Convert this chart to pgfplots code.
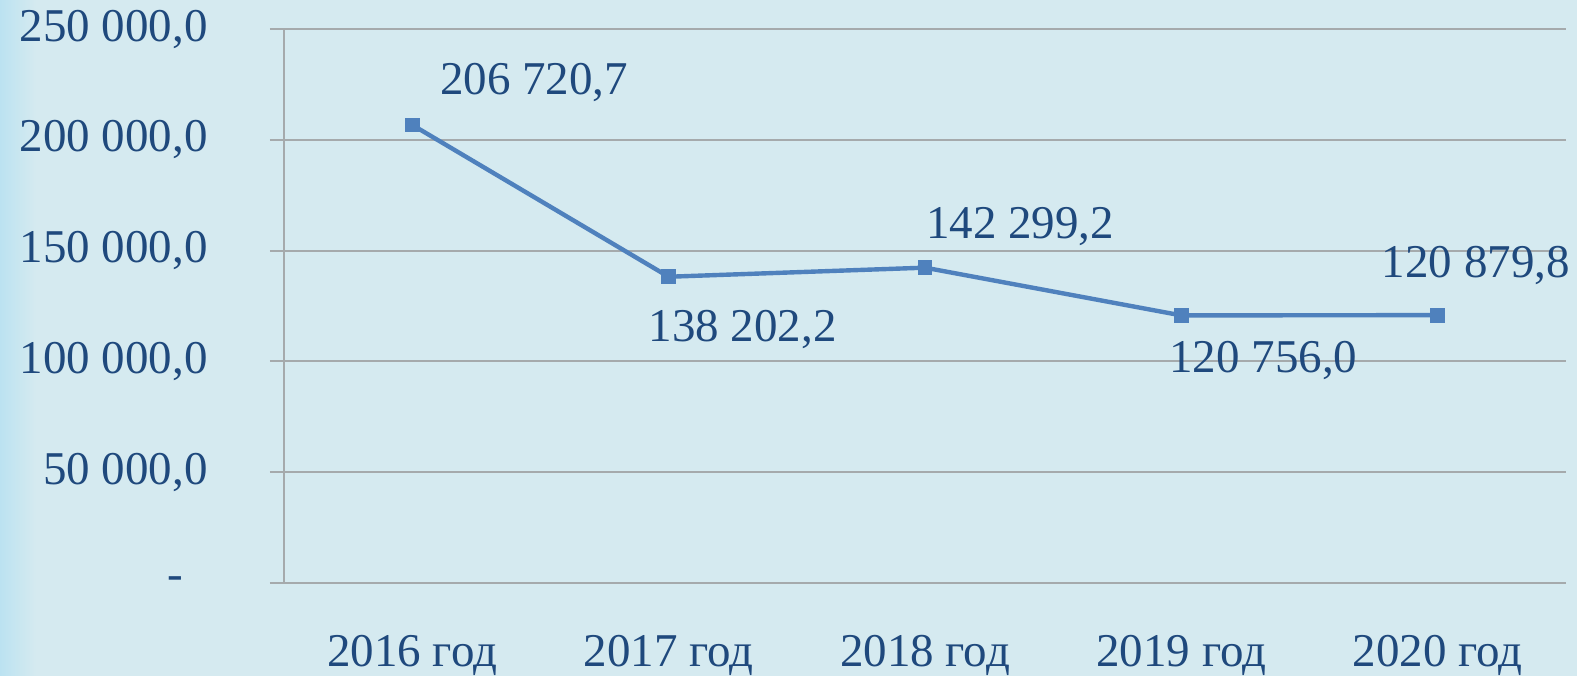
\documentclass[border=0pt]{standalone}
\usepackage{pgfplots}
\pgfplotsset{compat=1.18}
\usepackage{pgfplotstable}
\usepackage{fontspec}
\setmainfont{Liberation Serif}
\definecolor{bg}{RGB}{213,234,240}
\definecolor{bgl}{RGB}{183,225,241}
\definecolor{txt}{RGB}{31,73,125}
\definecolor{ln}{RGB}{79,129,189}
\definecolor{grd}{RGB}{165,170,172}

\pgfplotstableread{
x y dx dy lab
0 206720.7 61 15 {206 720,7}
1 138202.2 37 -32.5 {138 202,2}
2 142299.2 47.5 14.5 {142 299,2}
3 120756.0 41 -28.5 {120 756,0}
4 120879.8 19 19 {120 879,8}
}\data

\begin{document}
\begin{tikzpicture}
\useasboundingbox (0,0) rectangle (788.5pt,337.5pt);
\fill[bg] (-3pt,-3pt) rectangle (792pt,341pt);
\shade[left color=bgl, right color=bg] (-3pt,-3pt) rectangle (18pt,341pt);
\begin{axis}[
  at={(142pt,46pt)}, anchor=south west,
  scale only axis, width=641pt, height=277pt,
  xmin=-0.5, xmax=4.5, ymin=0, ymax=250000,
  scaled y ticks=false,
  axis lines*=left,
  axis line style={grd, line width=1pt},
  clip=false,
  tick align=outside,
  major tick length=7pt,
  tick style={grd, line width=1pt},
  ymajorgrids,
  grid style={grd, line width=1pt},
  ytick={0,50000,100000,150000,200000,250000},
  yticklabels={{-\rule{12pt}{0pt}},{50 000,0},{100 000,0},{150 000,0},{200 000,0},{250 000,0}},
  xtick={0,1,2,3,4},
  xticklabels={2016 год,2017 год,2018 год,2019 год,2020 год},
  x tick style={draw=none},
  extra x ticks={-0.5,0.5,1.5,2.5,3.5,4.5},
  extra x tick labels={},
  extra x tick style={grid=none, tick style={grd, line width=1pt, draw=grd}},
  tick label style={font=\fontsize{23.5}{28}\selectfont, text=txt},
  xticklabel style={anchor=north, inner sep=0pt, yshift=-19pt},
  yticklabel style={anchor=east, inner sep=0pt, xshift=-31pt},
]
\addplot[ln, line width=2.2pt, mark=square*, mark size=2.6pt,
  mark options={fill=ln, draw=ln, solid},
  point meta=explicit symbolic,
  visualization depends on={\thisrow{dx} \as \dx},
  visualization depends on={\thisrow{dy} \as \dy},
  nodes near coords,
  nodes near coords style={anchor=base, inner sep=0pt, xshift=\dx pt, yshift=\dy pt,
    font=\fontsize{23.5}{28}\selectfont, text=txt},
] table[x=x, y=y, meta=lab] {\data};
\end{axis}
\end{tikzpicture}
\end{document}
